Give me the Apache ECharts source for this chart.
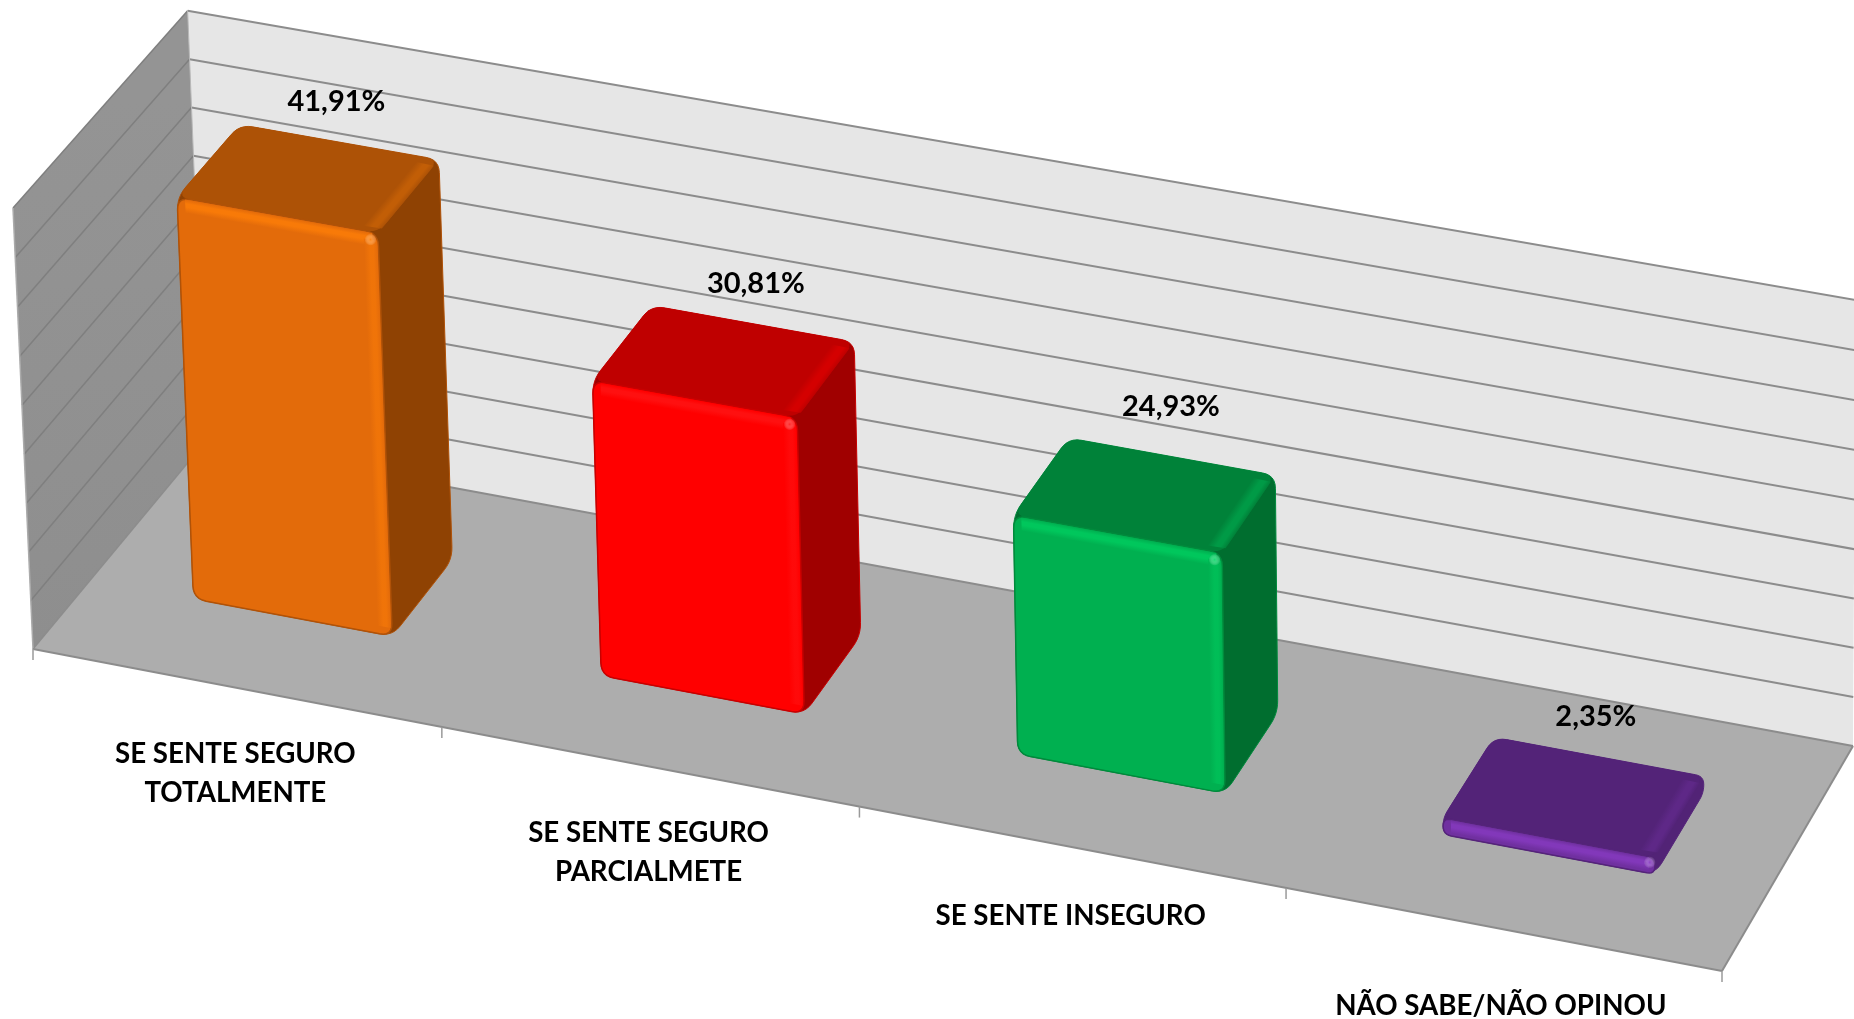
<!DOCTYPE html>
<html>
<head>
<meta charset="utf-8">
<title>Sensacao de seguranca</title>
<script src="https://cdn.jsdelivr.net/npm/echarts@6/dist/echarts.min.js"></script>
<style>
    html, body { margin: 0; padding: 0; background: #fff; }
    #chart_con { width: 1854px; height: 1019px; }
</style>
</head>
<body>
<div id="chart_con"></div>
<script>
    // chart values
    const categories = ['SE SENTE SEGURO\nTOTALMENTE', 'SE SENTE SEGURO\nPARCIALMETE', 'SE SENTE INSEGURO', 'NÃO SABE/NÃO OPINOU'];
    const values = [41.91, 30.81, 24.93, 2.35];
    const valueLabels = ['41,91%', '30,81%', '24,93%', '2,35%'];
    const yTicks = [0, 5, 10, 15, 20, 25, 30, 35, 40, 45];

    // face colours per bar
    const frontColors = ['#E36B0A', '#FF0000', '#00B050', '#7030A0'];
    const bevelColors = ['#F87A08', '#FF1010', '#00C75C', '#8238BA'];
    const glowColors = ['#FF8A1E', '#FF2A2A', '#1FE078', '#9548D0'];
    const topColors = ['#AD5206', '#BF0000', '#008239', '#532378'];
    const topEdgeColors = ['#C25E06', '#D40000', '#009A46', '#5E2887'];
    const sideColors = ['#8F4203', '#A00000', '#006E2F', '#522376'];
    const edgeColors = ['#B05208', '#C80000', '#008A3C', '#55247A'];

    // hand placed labels in the source chart, nudges in px
    const valueLabelNudge = [[-3, 0], [3, 0], [-1, -10], [-3, 0]];
    const categoryLabelNudge = [[-1, 0], [-1, 0], [-1, 3], [-2, 10]];

    // box corners on screen: front/back, bottom/top of the left wall and the right floor corners
    const A = [33, 649], B = [1722, 971], C = [205, 442], D = [1853, 746], E = [13, 208], F = [189, 12];

    // perspective solved from those corners
    const det = (B[0] - D[0]) * (C[1] - D[1]) - (C[0] - D[0]) * (B[1] - D[1]);
    const rx = D[0] - B[0] - C[0] + A[0], ry = D[1] - B[1] - C[1] + A[1];
    const pa = (rx * (C[1] - D[1]) - (C[0] - D[0]) * ry) / det;
    const pb = ((B[0] - D[0]) * ry - rx * (B[1] - D[1])) / det;
    const ex = E[0] - F[0], ey = E[1] - F[1];
    const sx = (F[0] - C[0]) * (1 + pb) + A[0] - E[0], sy = (F[1] - C[1]) * (1 + pb) + A[1] - E[1];
    const pc = (sx * ex + sy * ey) / (ex * ex + ey * ey);
    const Pu = [B[0] * (1 + pa) - A[0], B[1] * (1 + pa) - A[1]];
    const Pd = [C[0] * (1 + pb) - A[0], C[1] * (1 + pb) - A[1]];
    const Ph = [E[0] * (1 + pc) - A[0], E[1] * (1 + pc) - A[1]];

    function project(u, d, h) {
        let w = 1 + pa * u + pb * d + pc * h;
        return [
            (A[0] + u * Pu[0] + d * Pd[0] + h * Ph[0]) / w,
            (A[1] + u * Pu[1] + d * Pd[1] + h * Ph[1]) / w
        ];
    }

    const BAR_FRAC = 0.49, DEPTH_FRONT = 0.33, DEPTH_BACK = 0.695, CORNER = 13, BEVEL = 14, TOP_INSET = 0.015;

    // closed polygon with rounded corners, sampled
    function rounded(pts, r) {
        let out = [], n = pts.length;
        for (let i = 0; i < n; i++) {
            let p = pts[i], a = pts[(i + n - 1) % n], b = pts[(i + 1) % n];
            let la = Math.hypot(a[0] - p[0], a[1] - p[1]), lb = Math.hypot(b[0] - p[0], b[1] - p[1]);
            let rr = Math.min(r, la / 2, lb / 2);
            let s = [p[0] + (a[0] - p[0]) * rr / la, p[1] + (a[1] - p[1]) * rr / la];
            let e = [p[0] + (b[0] - p[0]) * rr / lb, p[1] + (b[1] - p[1]) * rr / lb];
            for (let t = 0; t <= 6; t++) {
                let k = t / 6;
                out.push([
                    (1 - k) * (1 - k) * s[0] + 2 * k * (1 - k) * p[0] + k * k * e[0],
                    (1 - k) * (1 - k) * s[1] + 2 * k * (1 - k) * p[1] + k * k * e[1]
                ]);
            }
        }
        return out;
    }

    function poly(points, fill, stroke, lineWidth) {
        return {
            type: 'polygon',
            silent: true,
            shape: {points: points},
            style: {fill: fill, stroke: stroke || null, lineWidth: lineWidth || 0}
        };
    }

    function line(p, q, color, width) {
        return {
            type: 'line',
            silent: true,
            shape: {x1: p[0], y1: p[1], x2: q[0], y2: q[1]},
            style: {stroke: color, lineWidth: width}
        };
    }

    function lerp(p, q, t) {
        return [p[0] + (q[0] - p[0]) * t, p[1] + (q[1] - p[1]) * t];
    }

    function along(p, q, dist) {
        return lerp(p, q, dist / Math.hypot(q[0] - p[0], q[1] - p[1]));
    }

    // soft strip: colour fades from base at the edge over peak to base again,
    // gradient runs square to the long edge p1-p2
    function strip(p1, p2, q1, q2, base, peak, alpha) {
        let ex = p2[0] - p1[0], ey = p2[1] - p1[1], len = Math.hypot(ex, ey);
        let nx = -ey / len, ny = ex / len;
        let w = (q1[0] - p1[0]) * nx + (q1[1] - p1[1]) * ny;
        let s = poly([p1, p2, q2, q1], {
            type: 'linear', global: true,
            x: p1[0], y: p1[1], x2: p1[0] + nx * w, y2: p1[1] + ny * w,
            colorStops: [
                {offset: 0, color: base},
                {offset: 0.3, color: peak},
                {offset: 0.55, color: peak},
                {offset: 1, color: base}
            ]
        });
        s.style.opacity = alpha;
        return s;
    }

    function toUnit(px, py, cs) {
        return [(px - cs.x) / cs.width, (cs.y + cs.height - py) / cs.height];
    }

    function renderWalls(params, api) {
        let floor = [project(0, 0, 0), project(1, 0, 0), project(1, 1, 0), project(0, 1, 0)];
        let back = [project(0, 1, 0), project(1, 1, 0), project(1, 1, 1), project(0, 1, 1)];
        let left = [project(0, 0, 0), project(0, 1, 0), project(0, 1, 1), project(0, 0, 1)];
        return {
            type: 'group',
            children: [
                poly(back, '#E6E6E6'),
                poly(left, {
                    type: 'linear', global: true, x: 100, y: 100, x2: 100, y2: 650,
                    colorStops: [{offset: 0, color: '#949494'}, {offset: 1, color: '#8E8E8E'}]
                }),
                poly(floor, '#ADADAD')
            ]
        };
    }

    function renderGridLine(params, api) {
        let cs = params.coordSys;
        let p = api.coord([0, api.value(1)]);
        let h = toUnit(p[0], p[1], cs)[1];
        return {
            type: 'group',
            children: [
                line(project(0, 1, h), project(1, 1, h), '#8C8C8C', 2),
                line(project(0, 0, h), project(0, 1, h), h > 0 ? '#7F7F7F' : '#8C8C8C', 1.5)
            ]
        };
    }

    function renderEdges(params, api) {
        let out = [
            line(project(0, 0, 0), project(0, 0, 1), '#ABABAB', 1.5),
            line(project(0, 1, 0), project(0, 1, 1), '#B8B8B8', 1),
            line(project(0, 0, 0), project(1, 0, 0), '#8C8C8C', 2),
            line(project(1, 0, 0), project(1, 1, 0), '#8C8C8C', 2)
        ];
        return {type: 'group', children: out};
    }

    function renderTick(params, api) {
        let cs = params.coordSys, i = params.dataIndex;
        let p = api.coord([api.value(0), 0]);
        let band = api.size([1, 0])[0];
        let u = toUnit(p[0] - band / 2, p[1], cs)[0];
        let q = project(u, 0, 0);
        let children = [line(q, [q[0], q[1] + 11], '#9A9A9A', 1.5)];
        if (i === categories.length - 1) {
            let q2 = project(toUnit(p[0] + band / 2, p[1], cs)[0], 0, 0);
            children.push(line(q2, [q2[0], q2[1] + 11], '#9A9A9A', 1.5));
        }
        let m = project(toUnit(p[0], p[1], cs)[0], 0, 0);
        children.push({
            type: 'text',
            silent: true,
            style: {
                x: m[0] + categoryLabelNudge[i][0], y: m[1] + 47 + categoryLabelNudge[i][1],
                text: categories[i],
                fill: '#000',
                font: 'bold 27.7px Lato',
                align: 'center',
                verticalAlign: 'top',
                lineHeight: 39
            }
        });
        return {type: 'group', children: children};
    }

    function renderBar(params, api) {
        let cs = params.coordSys, i = params.dataIndex;
        let top = api.coord([api.value(0), api.value(1)]);
        let band = api.size([1, 0])[0] * BAR_FRAC;
        let ul = toUnit(top[0] - band / 2, top[1], cs)[0];
        let ur = toUnit(top[0] + band / 2, top[1], cs)[0];
        let h = toUnit(top[0], top[1], cs)[1] - TOP_INSET;

        let fbl = project(ul, DEPTH_FRONT, 0), fbr = project(ur, DEPTH_FRONT, 0);
        let ftl = project(ul, DEPTH_FRONT, h), ftr = project(ur, DEPTH_FRONT, h);
        let bbr = project(ur, DEPTH_BACK, 0);
        let btl = project(ul, DEPTH_BACK, h), btr = project(ur, DEPTH_BACK, h);

        let outline = rounded([ftl, btl, btr, bbr, fbr, fbl], CORNER);
        let topFace = rounded([ftl, btl, btr, ftr], CORNER);

        let frontH = Math.hypot(fbl[0] - ftl[0], fbl[1] - ftl[1]);
        let bandH = Math.min(BEVEL, frontH * 0.8);
        let children = [
            poly(outline, sideColors[i], edgeColors[i], 1),
            poly(topFace, topColors[i])
        ];

        // brighter rim on the right of the top face
        let rimA = along(ftr, btr, 6), rimB = along(btr, ftr, 8);
        children.push(strip(rimB, rimA, along(rimB, btl, BEVEL + 4), along(rimA, ftl, BEVEL + 4), topColors[i], topEdgeColors[i], 1));

        children.push(poly(rounded([ftl, ftr, fbr, fbl], CORNER), frontColors[i], edgeColors[i], 1.5));

        // soft highlight along the top and right of the front face
        let tl = along(ftl, fbl, 1), tr = along(ftr, fbr, 1);
        children.push(strip(along(tl, tr, 8), along(tr, tl, 6),
            along(along(tl, fbl, bandH), tr, 8), along(along(tr, fbr, bandH), tl, 6), frontColors[i], bevelColors[i], 1));
        let rt = along(ftr, ftl, 1), rb = along(fbr, fbl, 1);
        children.push(strip(along(rt, rb, 8), along(rb, rt, 8),
            along(along(rt, ftl, BEVEL), rb, 8), along(along(rb, fbl, BEVEL), rt, 8), frontColors[i], bevelColors[i], 0.6));

        // little shine where the bevels meet
        let spot = along(along(ftr, ftl, 8), fbr, Math.min(8, frontH * 0.4));
        children.push({
            type: 'circle',
            silent: true,
            shape: {cx: spot[0], cy: spot[1], r: 6},
            style: {
                fill: {
                    type: 'radial', x: 0.5, y: 0.5, r: 0.5,
                    colorStops: [{offset: 0, color: glowColors[i]}, {offset: 1, color: 'rgba(255,255,255,0)'}]
                },
                opacity: 0.8
            }
        });

        // value label above the middle of the back edge
        let mid = lerp(btl, btr, 0.5);
        children.push({
            type: 'text',
            silent: true,
            style: {
                x: mid[0] + valueLabelNudge[i][0], y: mid[1] - 40 + valueLabelNudge[i][1],
                text: valueLabels[i],
                fill: '#000',
                font: 'bold 29px Lato',
                align: 'center',
                verticalAlign: 'middle'
            }
        });
        return {type: 'group', children: children};
    }

    let chart = echarts.init(document.getElementById('chart_con'));
    chart.setOption({
        animation: false,
        backgroundColor: '#fff',
        tooltip: {show: false},
        grid: {left: 0, right: 0, top: 0, bottom: 0},
        xAxis: {type: 'category', data: categories, show: false},
        yAxis: {type: 'value', min: 0, max: 45, interval: 5, show: false},
        series: [
            {type: 'custom', name: 'walls', clip: false, silent: true, z: 1, renderItem: renderWalls, data: [[0, 0]]},
            {type: 'custom', name: 'gridlines', clip: false, silent: true, z: 2, renderItem: renderGridLine, data: yTicks.map(v => [0, v])},
            {type: 'custom', name: 'edges', clip: false, silent: true, z: 3, renderItem: renderEdges, data: [[0, 0]]},
            {type: 'custom', name: 'categories', clip: false, silent: true, z: 4, renderItem: renderTick, data: categories.map((c, i) => [i, 0])},
            {type: 'custom', name: 'bars', clip: false, silent: true, z: 5, renderItem: renderBar, data: values.map((v, i) => [i, v])}
        ]
    });
    window.addEventListener('resize', function () {
        chart.resize();
    });
</script>
</body>
</html>
